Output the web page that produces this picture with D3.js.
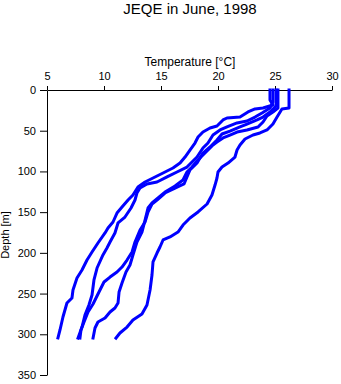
<!DOCTYPE html>
<html>
<head>
<meta charset="utf-8">
<script src="https://cdn.jsdelivr.net/npm/d3@7"></script>
<style>
  html, body { margin: 0; padding: 0; background: #fff; }
  svg { display: block; }
  text { font-family: "Liberation Sans", Arial, Helvetica, sans-serif; fill: #000; }
</style>
</head>
<body>
<svg id="chart" width="341" height="384"></svg>
<script>
// ---- Data: CTD profiles [temperature °C, depth m] ----
const title = "JEQE in June, 1998";
const xLabel = "Temperature [°C]";
const yLabel = "Depth [m]";
const xTicks = [5, 10, 15, 20, 25, 30];
const yTicks = [0, 50, 100, 150, 200, 250, 300, 350];

const profile1 = [[24.56,0],[24.56,12.3],[24.82,18.4],[23.95,22.1],[23.25,23.3],[22.63,27.0],[21.93,33.2],[20.79,34.4],[20.44,36.8],[19.91,44.2],[19.30,46.7],[18.68,51.6],[18.25,57.7],[17.98,65.1],[17.54,73.7],[17.11,82.3],[16.67,89.7],[16.05,95.8],[15.18,101.9],[14.30,108.1],[13.60,113.0],[12.98,119.1],[12.54,128.9],[12.11,135.1],[11.58,143.7],[11.14,151.1],[10.79,162.1],[10.35,169.5],[10.09,175.6],[9.47,187.9],[8.95,199.0],[8.51,208.8],[8.07,221.1],[7.63,230.9],[7.28,245.6],[7.19,255.4],[6.75,261.6],[6.40,278.8],[6.14,294.7],[5.96,304.6]];

const profile2 = [[24.82,0],[24.82,14.7],[24.56,22.1],[23.86,28.2],[23.25,33.2],[22.54,38.1],[21.67,40.5],[20.79,45.4],[20.18,49.1],[19.56,55.3],[19.12,65.1],[18.68,71.2],[18.16,82.3],[17.28,94.6],[16.40,100.7],[15.53,106.8],[14.65,113.0],[13.77,115.4],[13.16,120.4],[12.89,126.5],[12.72,135.1],[12.37,144.9],[11.84,156.0],[11.23,163.3],[10.96,175.6],[10.53,186.7],[10.26,194.0],[9.91,202.6],[9.39,218.6],[9.12,233.3],[8.95,251.8],[8.68,264.0],[8.33,276.3],[8.07,291.1],[7.72,304.6]];

const profile3 = [[25.09,0],[25.09,19.6],[24.56,27.0],[23.95,33.2],[23.42,36.8],[22.54,41.8],[21.93,45.4],[21.05,50.4],[20.35,54.0],[19.91,61.4],[19.30,70.0],[18.68,77.4],[18.16,89.7],[17.54,98.2],[17.28,106.8],[17.02,115.4],[16.23,120.4],[15.35,126.5],[14.65,135.1],[14.21,140.0],[13.86,149.8],[13.60,162.1],[13.16,171.9],[12.72,186.7],[12.46,199.0],[12.02,208.8],[11.58,217.4],[11.14,223.5],[10.53,229.7],[10.00,235.8],[9.56,248.1],[9.04,262.8],[8.60,272.6],[8.25,284.9],[7.98,294.7],[7.89,304.6]];

const profile4 = [[25.26,0],[25.26,22.1],[24.82,27.0],[24.30,31.9],[23.95,39.3],[23.51,45.4],[22.54,49.1],[21.67,51.6],[21.05,55.3],[20.44,58.9],[19.91,63.9],[19.56,67.5],[19.12,73.7],[18.68,79.8],[18.16,87.2],[17.72,94.6],[17.28,100.7],[16.93,110.5],[16.23,117.9],[15.35,125.3],[14.74,132.6],[14.21,138.8],[13.86,144.9],[13.60,159.7],[13.33,174.4],[12.89,186.7],[12.54,202.6],[12.28,214.9],[11.93,223.5],[11.58,237.0],[11.32,248.1],[11.23,261.6],[10.96,267.7],[10.53,272.6],[10.09,280.0],[9.47,284.9],[9.21,292.3],[9.04,304.6]];

const profile5 = [[26.23,0],[26.23,22.1],[25.61,23.3],[25.18,33.2],[24.82,41.8],[24.30,49.1],[23.68,52.8],[23.07,55.3],[22.37,60.2],[21.93,67.5],[21.67,73.7],[21.49,82.3],[20.88,89.7],[20.35,94.6],[20.00,100.7],[19.91,108.1],[19.74,116.7],[19.47,128.9],[19.04,140.0],[18.25,149.8],[17.54,157.2],[16.93,165.8],[16.49,174.4],[15.79,180.5],[15.18,184.2],[14.91,192.8],[14.65,200.2],[14.30,211.2],[14.21,227.2],[14.04,245.6],[13.77,264.0],[13.33,275.1],[12.54,282.5],[12.02,291.1],[11.40,298.4],[11.05,304.6]];

const profiles = [profile1, profile2, profile3, profile4, profile5];

// ---- Chart ----
const svg = d3.select("#chart");
const x = d3.scaleLinear().domain([5, 30]).range([47, 332]);
const y = d3.scaleLinear().domain([0, 350]).range([90, 375]);

svg.append("text")
  .attr("x", 190).attr("y", 14)
  .attr("text-anchor", "middle")
  .style("font-size", "15px")
  .text(title);

const xAxis = svg.append("g")
  .attr("transform", `translate(0,${y(0)})`)
  .call(d3.axisTop(x).tickValues(xTicks).tickSize(4).tickSizeOuter(0).tickPadding(6));
const yAxis = svg.append("g")
  .attr("transform", `translate(${x(5)},0)`)
  .call(d3.axisLeft(y).tickValues(yTicks).tickSize(7).tickSizeOuter(0).tickPadding(4));

[xAxis, yAxis].forEach(g => {
  g.selectAll("text").style("font-size", "11px").style("font-family", '"Liberation Sans", Arial, sans-serif');
  g.selectAll("line, path").attr("stroke", "#000");
});

svg.append("text")
  .attr("x", 190).attr("y", 66)
  .attr("text-anchor", "middle")
  .style("font-size", "12px")
  .text(xLabel);

svg.append("text")
  .attr("transform", `translate(9,235) rotate(-90)`)
  .attr("text-anchor", "middle")
  .style("font-size", "11px")
  .text(yLabel);

const line = d3.line().x(d => x(d[0])).y(d => y(d[1]));

svg.append("g").selectAll("path.profile")
  .data(profiles)
  .join("path")
  .attr("class", "profile")
  .attr("d", line)
  .attr("fill", "none")
  .attr("stroke", "#0000ff")
  .attr("stroke-width", 3)
  .attr("stroke-linejoin", "round")
  .attr("stroke-linecap", "square");
</script>
</body>
</html>
